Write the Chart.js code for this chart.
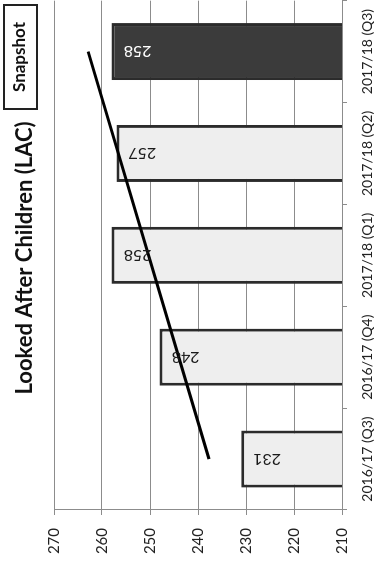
<!DOCTYPE html>
<html>
<head>
<meta charset="utf-8">
<script src="https://cdn.jsdelivr.net/npm/chart.js@4/dist/chart.umd.min.js"></script>
<style>
  html, body { margin: 0; padding: 0; background: #fff; overflow: hidden; }
  #wrap {
    position: absolute; left: 0; top: 0;
    width: 567px; height: 380px;
    transform-origin: 0 0;
    transform: translate(0px, 564px) rotate(-90deg);
  }
</style>
</head>
<body>
<div id="wrap"><canvas id="myChart" width="567" height="380"></canvas></div>
<script>
// data
var quarters = ['2016/17 (Q3)', '2016/17 (Q4)', '2017/18 (Q1)', '2017/18 (Q2)', '2017/18 (Q3)'];
var lacCounts = [231, 248, 258, 257, 258];
var trendLine = [237.7, null, null, null, 262.9];
var valueTicks = [210, 220, 230, 240, 250, 260, 270];

var titleText = 'Looked After Children (LAC)';
var badgeText = 'Snapshot';

var gridColor = '#8c8c8c';
var fontName = 'Lato, "Open Sans", sans-serif';

// draws the numbers inside the bars, the title and the snapshot box
var extras = {
    id: 'extras',
    afterDatasetsDraw: function (chart) {
        var c = chart.ctx;
        var bars = chart.getDatasetMeta(0).data;
        c.save();
        c.font = '16px ' + fontName;
        c.textAlign = 'center';
        c.textBaseline = 'middle';
        bars.forEach(function (bar, i) {
            c.save();
            c.translate(bar.x, bar.y + 26);
            c.rotate(-Math.PI / 2);
            c.fillStyle = i === lacCounts.length - 1 ? '#ffffff' : '#1a1a1a';
            c.fillText(String(lacCounts[i]), 0, 0);
            c.restore();
        });
        c.restore();
    },
    afterDraw: function (chart) {
        var c = chart.ctx;
        c.save();
        c.fillStyle = '#111';
        c.font = 'bold 22px ' + fontName;
        c.textAlign = 'center';
        c.textBaseline = 'alphabetic';
        c.fillText(titleText, 306, 32);

        c.strokeStyle = '#222';
        c.lineWidth = 2;
        c.strokeRect(455, 4, 104, 33);
        c.font = 'bold 17px ' + fontName;
        c.textBaseline = 'middle';
        c.fillText(badgeText, 507, 20);
        c.restore();
    }
};

var ctx = document.getElementById('myChart').getContext('2d');
var myChart = new Chart(ctx, {
    data: {
        labels: quarters,
        datasets: [{
            type: 'bar',
            data: lacCounts,
            backgroundColor: function (context) {
                return context.dataIndex === lacCounts.length - 1 ? '#3b3b3b' : '#eeeeee';
            },
            borderColor: '#2b2b2b',
            borderWidth: 3,
            borderSkipped: false,
            barPercentage: 0.56,
            categoryPercentage: 1,
            order: 2
        }, {
            type: 'line',
            data: trendLine,
            spanGaps: true,
            borderColor: '#000',
            borderWidth: 3,
            pointRadius: 0,
            order: 1
        }]
    },
    options: {
        responsive: false,
        animation: false,
        devicePixelRatio: 1,
        layout: { padding: { top: 54, left: 0, right: 0, bottom: 0 } },
        plugins: {
            legend: { display: false },
            title: { display: false },
            tooltip: { enabled: false }
        },
        scales: {
            x: {
                offset: true,
                grid: {
                    offset: true,
                    drawOnChartArea: false,
                    color: gridColor,
                    tickLength: 5
                },
                border: { color: gridColor },
                ticks: {
                    color: '#222',
                    font: { family: fontName, size: 14 },
                    padding: 12,
                    maxRotation: 0,
                    autoSkip: false
                },
                afterFit: function (scale) { scale.height = 38; }
            },
            y: {
                min: 210,
                max: 270,
                afterBuildTicks: function (scale) {
                    scale.ticks = valueTicks.map(function (v) { return { value: v }; });
                },
                grid: { color: gridColor, tickLength: 5 },
                border: { color: gridColor },
                ticks: {
                    color: '#222',
                    font: { family: fontName, size: 15 },
                    padding: 13
                },
                afterFit: function (scale) { scale.width = 54; }
            }
        }
    },
    plugins: [extras]
});
</script>
</body>
</html>
